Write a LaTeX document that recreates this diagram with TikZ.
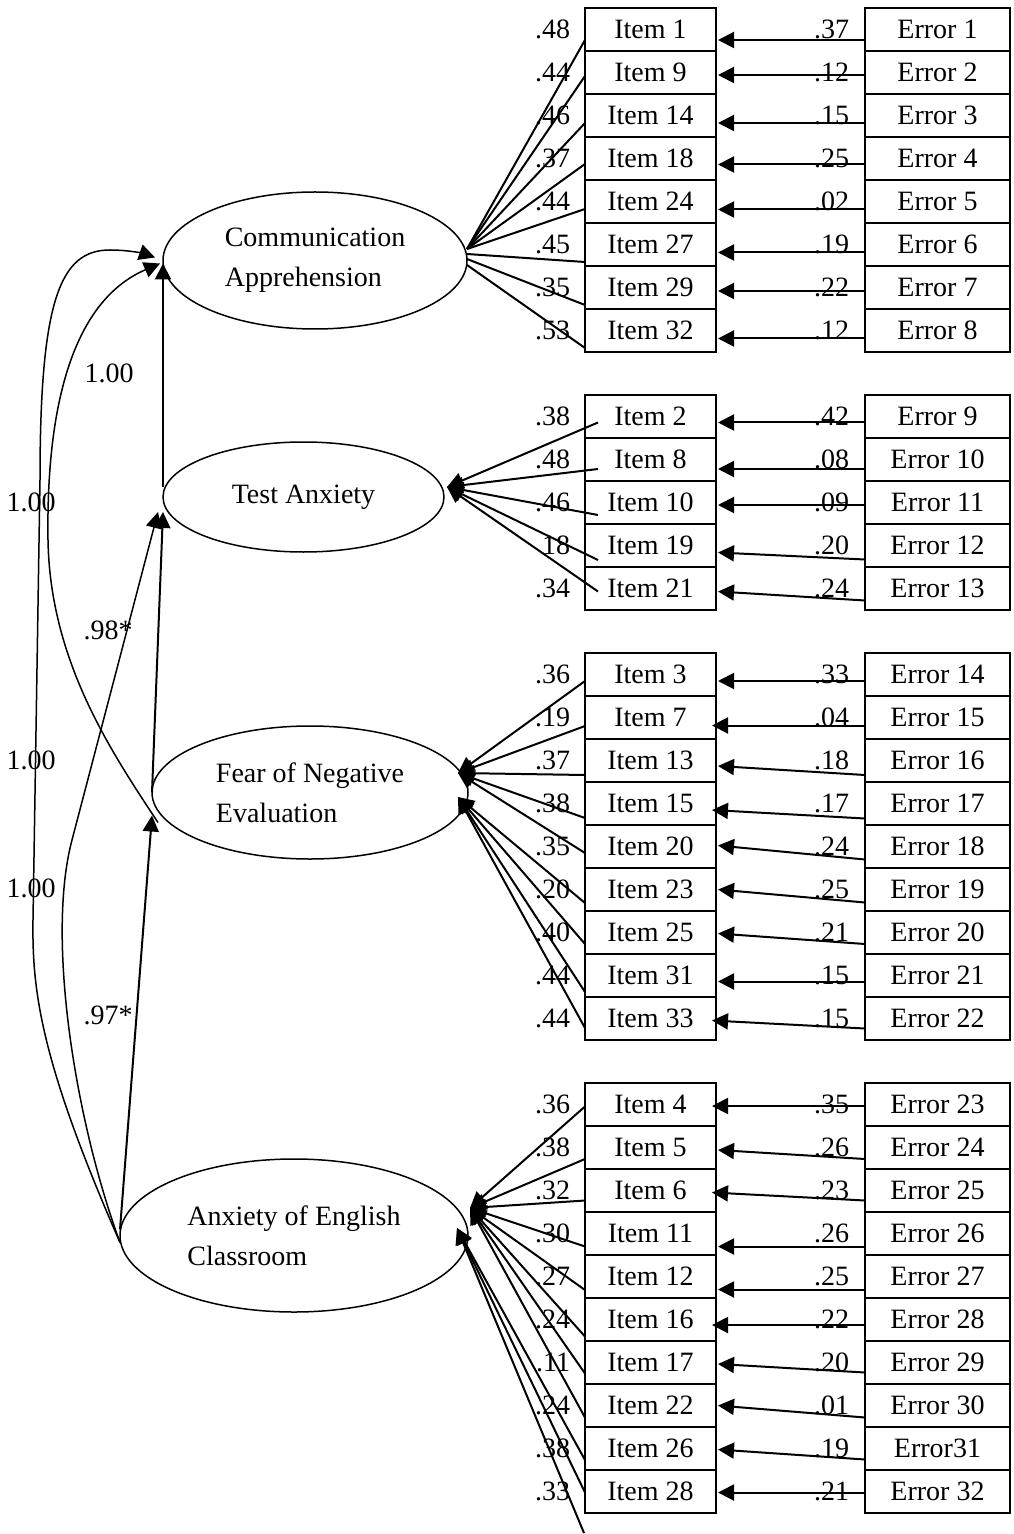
\documentclass[tikz,border=0pt]{standalone}
\usepackage{fontspec}
\setmainfont{Liberation Serif}
\usepackage{tikz}
\usetikzlibrary{positioning, arrows.meta, shapes.geometric}

\begin{document}
\begin{tikzpicture}[
    x=0.5pt, y=-0.5pt,
    node distance=0pt,
    every node/.style={font=\fontsize{14}{20}\selectfont, inner sep=0pt, outer sep=0pt},
    latent/.style={draw, ellipse, line width=0.75pt, align=left},
    itembox/.style={draw, rectangle, line width=0.9pt, minimum width=65.5pt, minimum height=21.5pt},
    errbox/.style={draw, rectangle, line width=0.9pt, minimum width=72.5pt, minimum height=21.5pt},
    link/.style={line width=1pt},
    arrow/.style={-{Triangle[length=8pt,width=8pt]}, line width=1pt},
    curve/.style={-{Triangle[length=8pt,width=8pt]}, line width=0.75pt}
]
\useasboundingbox (0,0) rectangle (1013,1534);

% latent factors
\node[latent, minimum width=152pt, minimum height=68.5pt] (CA) at (315,260.5) {Communication\\Apprehension};
\node[latent, minimum width=140.5pt, minimum height=55pt] (TA) at (303.5,497) {Test Anxiety};
\node[latent, minimum width=158pt, minimum height=66.5pt] (FNE) at (310,792.5) {Fear of Negative\\Evaluation};
\node[latent, minimum width=174pt, minimum height=76.5pt] (AEC) at (294,1235.5) {Anxiety of English\\Classroom};

% items
\node[itembox] (i1) at (650.5,29.5) {Item 1};
\node[itembox, below=of i1] (i9) {Item 9};
\node[itembox, below=of i9] (i14) {Item 14};
\node[itembox, below=of i14] (i18) {Item 18};
\node[itembox, below=of i18] (i24) {Item 24};
\node[itembox, below=of i24] (i27) {Item 27};
\node[itembox, below=of i27] (i29) {Item 29};
\node[itembox, below=of i29] (i32) {Item 32};
\node[itembox, below=21.5pt of i32] (i2) {Item 2};
\node[itembox, below=of i2] (i8) {Item 8};
\node[itembox, below=of i8] (i10) {Item 10};
\node[itembox, below=of i10] (i19) {Item 19};
\node[itembox, below=of i19] (i21) {Item 21};
\node[itembox, below=21.5pt of i21] (i3) {Item 3};
\node[itembox, below=of i3] (i7) {Item 7};
\node[itembox, below=of i7] (i13) {Item 13};
\node[itembox, below=of i13] (i15) {Item 15};
\node[itembox, below=of i15] (i20) {Item 20};
\node[itembox, below=of i20] (i23) {Item 23};
\node[itembox, below=of i23] (i25) {Item 25};
\node[itembox, below=of i25] (i31) {Item 31};
\node[itembox, below=of i31] (i33) {Item 33};
\node[itembox, below=21.5pt of i33] (i4) {Item 4};
\node[itembox, below=of i4] (i5) {Item 5};
\node[itembox, below=of i5] (i6) {Item 6};
\node[itembox, below=of i6] (i11) {Item 11};
\node[itembox, below=of i11] (i12) {Item 12};
\node[itembox, below=of i12] (i16) {Item 16};
\node[itembox, below=of i16] (i17) {Item 17};
\node[itembox, below=of i17] (i22) {Item 22};
\node[itembox, below=of i22] (i26) {Item 26};
\node[itembox, below=of i26] (i28) {Item 28};

% errors
\node[errbox, right=74.5pt of i1] (e1) {Error 1};
\node[errbox, right=74.5pt of i9] (e2) {Error 2};
\node[errbox, right=74.5pt of i14] (e3) {Error 3};
\node[errbox, right=74.5pt of i18] (e4) {Error 4};
\node[errbox, right=74.5pt of i24] (e5) {Error 5};
\node[errbox, right=74.5pt of i27] (e6) {Error 6};
\node[errbox, right=74.5pt of i29] (e7) {Error 7};
\node[errbox, right=74.5pt of i32] (e8) {Error 8};
\node[errbox, right=74.5pt of i2] (e9) {Error 9};
\node[errbox, right=74.5pt of i8] (e10) {Error 10};
\node[errbox, right=74.5pt of i10] (e11) {Error 11};
\node[errbox, right=74.5pt of i19] (e12) {Error 12};
\node[errbox, right=74.5pt of i21] (e13) {Error 13};
\node[errbox, right=74.5pt of i3] (e14) {Error 14};
\node[errbox, right=74.5pt of i7] (e15) {Error 15};
\node[errbox, right=74.5pt of i13] (e16) {Error 16};
\node[errbox, right=74.5pt of i15] (e17) {Error 17};
\node[errbox, right=74.5pt of i20] (e18) {Error 18};
\node[errbox, right=74.5pt of i23] (e19) {Error 19};
\node[errbox, right=74.5pt of i25] (e20) {Error 20};
\node[errbox, right=74.5pt of i31] (e21) {Error 21};
\node[errbox, right=74.5pt of i33] (e22) {Error 22};
\node[errbox, right=74.5pt of i4] (e23) {Error 23};
\node[errbox, right=74.5pt of i5] (e24) {Error 24};
\node[errbox, right=74.5pt of i6] (e25) {Error 25};
\node[errbox, right=74.5pt of i11] (e26) {Error 26};
\node[errbox, right=74.5pt of i12] (e27) {Error 27};
\node[errbox, right=74.5pt of i16] (e28) {Error 28};
\node[errbox, right=74.5pt of i17] (e29) {Error 29};
\node[errbox, right=74.5pt of i22] (e30) {Error 30};
\node[errbox, right=74.5pt of i26] (e31) {Error31};
\node[errbox, right=74.5pt of i28] (e32) {Error 32};

% loadings
\node[left=7.5pt of i1] (l1) {.48};
\node[left=7.5pt of i9] (l9) {.44};
\node[left=7.5pt of i14] (l14) {.46};
\node[left=7.5pt of i18] (l18) {.37};
\node[left=7.5pt of i24] (l24) {.44};
\node[left=7.5pt of i27] (l27) {.45};
\node[left=7.5pt of i29] (l29) {.35};
\node[left=7.5pt of i32] (l32) {.53};
\node[left=7.5pt of i2] (l2) {.38};
\node[left=7.5pt of i8] (l8) {.48};
\node[left=7.5pt of i10] (l10) {.46};
\node[left=7.5pt of i19] (l19) {18};
\node[left=7.5pt of i21] (l21) {.34};
\node[left=7.5pt of i3] (l3) {.36};
\node[left=7.5pt of i7] (l7) {.19};
\node[left=7.5pt of i13] (l13) {.37};
\node[left=7.5pt of i15] (l15) {.38};
\node[left=7.5pt of i20] (l20) {.35};
\node[left=7.5pt of i23] (l23) {.20};
\node[left=7.5pt of i25] (l25) {.40};
\node[left=7.5pt of i31] (l31) {.44};
\node[left=7.5pt of i33] (l33) {.44};
\node[left=7.5pt of i4] (l4) {.36};
\node[left=7.5pt of i5] (l5) {.38};
\node[left=7.5pt of i6] (l6) {.32};
\node[left=7.5pt of i11] (l11) {.30};
\node[left=7.5pt of i12] (l12) {.27};
\node[left=7.5pt of i16] (l16) {.24};
\node[left=7.5pt of i17] (l17) {.11};
\node[left=7.5pt of i22] (l22) {.24};
\node[left=7.5pt of i26] (l26) {.38};
\node[left=7.5pt of i28] (l28) {.33};

% error variances
\node[left=8pt of e1] (v1) {.37};
\node[left=8pt of e2] (v2) {.12};
\node[left=8pt of e3] (v3) {.15};
\node[left=8pt of e4] (v4) {.25};
\node[left=8pt of e5] (v5) {.02};
\node[left=8pt of e6] (v6) {.19};
\node[left=8pt of e7] (v7) {.22};
\node[left=8pt of e8] (v8) {.12};
\node[left=8pt of e9] (v9) {.42};
\node[left=8pt of e10] (v10) {.08};
\node[left=8pt of e11] (v11) {.09};
\node[left=8pt of e12] (v12) {.20};
\node[left=8pt of e13] (v13) {.24};
\node[left=8pt of e14] (v14) {.33};
\node[left=8pt of e15] (v15) {.04};
\node[left=8pt of e16] (v16) {.18};
\node[left=8pt of e17] (v17) {.17};
\node[left=8pt of e18] (v18) {.24};
\node[left=8pt of e19] (v19) {.25};
\node[left=8pt of e20] (v20) {.21};
\node[left=8pt of e21] (v21) {.15};
\node[left=8pt of e22] (v22) {.15};
\node[left=8pt of e23] (v23) {.35};
\node[left=8pt of e24] (v24) {.26};
\node[left=8pt of e25] (v25) {.23};
\node[left=8pt of e26] (v26) {.26};
\node[left=8pt of e27] (v27) {.25};
\node[left=8pt of e28] (v28) {.22};
\node[left=8pt of e29] (v29) {.20};
\node[left=8pt of e30] (v30) {.01};
\node[left=8pt of e31] (v31) {.19};
\node[left=8pt of e32] (v32) {.21};

% coefficients on the left
\node (c1) at (109,373) {1.00};
\node (c2) at (31,502) {1.00};
\node (c3) at (31,760) {1.00};
\node (c4) at (31,888) {1.00};
\node (c5) at (108,630) {.98*};
\node (c6) at (108,1015) {.97*};

% meeting points on the factors
\coordinate (TAin) at ([xshift=1.5pt,yshift=5pt]TA.east);
\coordinate (FNEup) at ([xshift=-5pt,yshift=9.75pt]FNE.east);
\coordinate (FNElow) at ([xshift=-5pt,yshift=-2.25pt]FNE.east);
\coordinate (AECup) at ([xshift=1pt,yshift=13.75pt]AEC.east);
\coordinate (AEClow) at ([xshift=-5.5pt,yshift=3.75pt]AEC.east);
\coordinate (tail) at (584,1533);

% error arrows
\draw[arrow] ([yshift=-5.25pt]e1.west) -- ([xshift=1pt,yshift=-5.25pt]i1.east);
\draw[arrow] ([yshift=-1.25pt]e2.west) -- ([xshift=1pt,yshift=-1.25pt]i9.east);
\draw[arrow] ([yshift=-3.75pt]e3.west) -- ([xshift=1pt,yshift=-3.75pt]i14.east);
\draw[arrow] ([yshift=-3pt]e4.west) -- ([xshift=1pt,yshift=-3pt]i18.east);
\draw[arrow] ([yshift=-4pt]e5.west) -- ([xshift=1pt,yshift=-4pt]i24.east);
\draw[arrow] ([yshift=-4pt]e6.west) -- ([xshift=1pt,yshift=-4pt]i27.east);
\draw[arrow] ([yshift=-1.75pt]e7.west) -- ([xshift=1pt,yshift=-1.75pt]i29.east);
\draw[arrow] ([yshift=-4pt]e8.west) -- ([xshift=1pt,yshift=-4pt]i32.east);
\draw[arrow] ([yshift=-3pt]e9.west) -- ([xshift=1pt,yshift=-3pt]i2.east);
\draw[arrow] ([yshift=-4.75pt]e10.west) -- ([xshift=1pt,yshift=-4.75pt]i8.east);
\draw[arrow] ([yshift=-1.25pt]e11.west) -- ([xshift=1pt,yshift=-1.25pt]i10.east);
\draw[arrow] ([yshift=-7pt]e12.west) -- ([xshift=1pt,yshift=-3.5pt]i19.east);
\draw[arrow] ([yshift=-6pt]e13.west) -- ([xshift=1pt,yshift=-1.5pt]i21.east);
\draw[arrow] ([yshift=-3.25pt]e14.west) -- ([xshift=1pt,yshift=-3.25pt]i3.east);
\draw[arrow] ([yshift=-4pt]e15.west) -- ([xshift=-2pt,yshift=-4pt]i7.east);
\draw[arrow] ([yshift=-7.25pt]e16.west) -- ([xshift=1pt,yshift=-2.75pt]i13.east);
\draw[arrow] ([yshift=-7.5pt]e17.west) -- ([xshift=-2pt,yshift=-3.25pt]i15.east);
\draw[arrow] ([yshift=-6.5pt]e18.west) -- ([xshift=1pt,yshift=0.5pt]i20.east);
\draw[arrow] ([yshift=-6.5pt]e19.west) -- ([xshift=1pt]i23.east);
\draw[arrow] ([yshift=-5.75pt]e20.west) -- ([xshift=1pt,yshift=-0.5pt]i25.east);
\draw[arrow] ([yshift=-3pt]e21.west) -- ([xshift=1pt,yshift=-3pt]i31.east);
\draw[arrow] ([yshift=-5pt]e22.west) -- ([xshift=-2pt,yshift=-1pt]i33.east);
\draw[arrow] ([yshift=-0.75pt]e23.west) -- ([xshift=-2pt,yshift=-0.75pt]i4.east);
\draw[arrow] ([yshift=-5.75pt]e24.west) -- ([xshift=1pt,yshift=-1.25pt]i5.east);
\draw[arrow] ([yshift=-5pt]e25.west) -- ([xshift=-2pt,yshift=-1pt]i6.east);
\draw[arrow] ([yshift=-6.5pt]e26.west) -- ([xshift=1pt,yshift=-6.5pt]i11.east);
\draw[arrow] ([yshift=-6.5pt]e27.west) -- ([xshift=1pt,yshift=-6.5pt]i12.east);
\draw[arrow] ([yshift=-2.75pt]e28.west) -- ([xshift=-2pt,yshift=-2.75pt]i16.east);
\draw[arrow] ([yshift=-5pt]e29.west) -- ([xshift=1pt,yshift=-0.75pt]i17.east);
\draw[arrow] ([yshift=-6pt]e30.west) -- ([xshift=1pt]i22.east);
\draw[arrow] ([yshift=-5.5pt]e31.west) -- ([xshift=1pt,yshift=-0.5pt]i26.east);
\draw[arrow] ([yshift=-0.5pt]e32.west) -- ([xshift=1pt,yshift=-0.5pt]i28.east);

% loading lines
\draw[link] ([yshift=-5.25pt]i1.west) -- ([yshift=5.75pt]CA.east);
\draw[link] ([yshift=-1.75pt]i9.west) -- ([yshift=5.75pt]CA.east);
\draw[link] ([yshift=-3.75pt]i14.west) -- ([yshift=5.75pt]CA.east);
\draw[link] ([yshift=-2.75pt]i18.west) -- ([yshift=5.75pt]CA.east);
\draw[link] ([yshift=-3.75pt]i24.west) -- ([yshift=5.75pt]CA.east);
\draw[link] ([yshift=-8.75pt]i27.west) -- ([yshift=3.25pt]CA.east);
\draw[link] ([yshift=-8.75pt]i29.west) -- ([yshift=0.75pt]CA.east);
\draw[link] ([yshift=-8.75pt]i32.west) -- ([yshift=-2.25pt]CA.east);
\draw[arrow] ([xshift=6.5pt,yshift=-3pt]i2.west) -- (TAin);
\draw[arrow] ([xshift=6.5pt,yshift=-4.75pt]i8.west) -- (TAin);
\draw[arrow] ([xshift=6.5pt,yshift=-6.25pt]i10.west) -- (TAin);
\draw[arrow] ([xshift=6.5pt,yshift=-7.25pt]i19.west) -- (TAin);
\draw[arrow] ([xshift=6.5pt,yshift=-1.5pt]i21.west) -- (TAin);
\draw[arrow] ([yshift=-3.25pt]i3.west) -- (FNEup);
\draw[arrow] ([yshift=-4.25pt]i7.west) -- (FNEup);
\draw[arrow] ([yshift=-7.25pt]i13.west) -- (FNEup);
\draw[arrow] ([yshift=-7.25pt]i15.west) -- (FNEup);
\draw[arrow] ([yshift=-3.25pt]i20.west) -- (FNEup);
\draw[arrow] ([yshift=-6.75pt]i23.west) -- (FNElow);
\draw[arrow] ([yshift=-5.75pt]i25.west) -- (FNElow);
\draw[arrow] ([yshift=-8.25pt]i31.west) -- (FNElow);
\draw[arrow] ([yshift=-4.75pt]i33.west) -- (FNElow);
\draw[arrow] ([yshift=-1pt]i4.west) -- (AECup);
\draw[arrow] ([yshift=-5.75pt]i5.west) -- (AECup);
\draw[arrow] ([yshift=-5pt]i6.west) -- (AECup);
\draw[arrow] ([yshift=-6.5pt]i11.west) -- (AECup);
\draw[arrow] ([yshift=-6.75pt]i12.west) -- (AECup);
\draw[arrow] ([yshift=-8.5pt]i16.west) -- (AECup);
\draw[arrow] ([yshift=-5.5pt]i17.west) -- (AECup);
\draw[arrow] ([yshift=-6pt]i22.west) -- (AECup);
\draw[arrow] ([yshift=-5.75pt]i26.west) -- (AEClow);
\draw[arrow] ([yshift=-0.5pt]i28.west) -- (AEClow);
\draw[arrow] (tail) -- (AEClow);

% paths between factors
\draw[arrow] ([yshift=5pt]TA.west) -- ([yshift=-1.5pt]CA.west);
\draw[arrow] (FNE.west) -- ([yshift=-7.5pt]TA.west);
\draw[arrow] ([yshift=3pt]AEC.west) -- ([yshift=-11.5pt]FNE.west);
\draw[curve] ([yshift=-3.5pt]AEC.west) .. controls (75,1120) and (46,938) .. (72,840) -- ([xshift=-2.5pt,yshift=-7.5pt]TA.west);
\draw[curve] ([yshift=-3.5pt]AEC.west) .. controls (40,1060) and (32,990) .. (33,920) -- (40,480) .. controls (40,300) and (60,250) .. (110,250) .. controls (130,250) and (145,254) .. ([xshift=-4pt,yshift=1.5pt]CA.west);
\draw[curve] ([xshift=3pt,yshift=-15pt]FNE.west) .. controls (110,750) and (50,660) .. (48,540) .. controls (46,400) and (75,300) .. ([xshift=-1.5pt,yshift=-1.5pt]CA.west);
\end{tikzpicture}
\end{document}
